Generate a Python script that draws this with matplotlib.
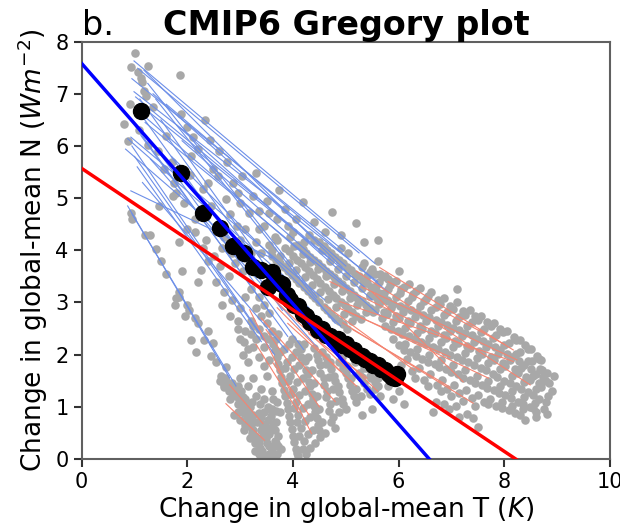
import matplotlib
matplotlib.use('Agg')
import matplotlib.pyplot as plt
import numpy as np

# ---------------- data ----------------
# multi-model mean (black dots)
mean_T = [1.13, 1.88, 2.30, 2.62, 2.86, 3.07, 3.25, 3.40, 3.52, 3.60, 3.72, 3.80,
          3.88, 3.95, 4.02, 4.10, 4.18, 4.25, 4.33, 4.40, 4.48, 4.55, 4.62, 4.70,
          4.78, 4.85, 4.92, 5.00, 5.07, 5.15, 5.22, 5.30, 5.37, 5.45, 5.52, 5.60,
          5.67, 5.75, 5.82, 5.88, 5.93, 5.97]
mean_N = [6.67, 5.48, 4.72, 4.43, 4.09, 3.95, 3.68, 3.62, 3.30, 3.58, 3.40, 3.35,
          3.15, 3.05, 2.95, 2.93, 2.78, 2.75, 2.62, 2.60, 2.48, 2.50, 2.38, 2.35,
          2.28, 2.30, 2.18, 2.20, 2.10, 2.08, 2.00, 1.98, 1.92, 1.88, 1.80, 1.80,
          1.72, 1.70, 1.62, 1.58, 1.55, 1.62]

# multi-model regression fits (intercept, slope)
fit_early = (7.58, -1.152)
fit_late = (5.57, -0.678)

# per-model early fits (T0, N0, T1, N1)
blue_segments = [
    (0.99, 7.63, 5.55, 3.75), (1.06, 7.49, 5.25, 3.95), (0.95, 7.29, 4.95, 4.00),
    (0.99, 7.04, 5.60, 3.40), (1.02, 6.94, 4.70, 3.85), (1.08, 6.81, 5.35, 3.30),
    (1.15, 6.60, 4.40, 3.75), (1.20, 6.45, 5.05, 3.25), (0.93, 6.17, 4.60, 3.05),
    (0.87, 6.14, 3.95, 3.40), (0.83, 5.94, 4.30, 2.90), (0.93, 5.14, 3.60, 3.85),
    (1.10, 6.90, 4.10, 2.70), (1.05, 6.70, 3.80, 2.85), (1.00, 6.40, 3.60, 2.75),
    (1.12, 6.20, 3.90, 2.35), (0.95, 6.00, 3.45, 2.30), (1.00, 5.80, 3.65, 2.00),
    (1.05, 5.60, 3.40, 2.25), (1.30, 6.10, 4.20, 2.10), (1.25, 7.20, 4.45, 3.10),
    (1.40, 6.90, 4.80, 2.60), (1.50, 6.50, 4.40, 2.40), (1.18, 7.45, 5.10, 3.50),
    (0.87, 4.85, 2.80, 1.55), (0.95, 4.70, 2.92, 1.40), (1.60, 6.80, 5.80, 3.20),
    (1.80, 6.40, 5.50, 3.05), (1.35, 7.00, 5.00, 3.70), (1.70, 5.80, 4.90, 2.55),
    (1.15, 5.30, 3.90, 2.05), (1.30, 5.75, 4.45, 2.15), (1.90, 6.10, 5.65, 2.75),
]

# per-model late fits (T0, N0, T1, N1)
red_segments = [
    (5.20, 3.60, 8.49, 1.42), (5.64, 3.67, 8.17, 2.09), (4.88, 3.02, 8.17, 1.87),
    (4.88, 2.89, 6.97, 1.96), (4.94, 2.61, 7.41, 1.07), (5.13, 2.48, 6.97, 1.38),
    (5.30, 3.30, 8.24, 1.90), (5.50, 3.20, 7.22, 1.48), (4.70, 3.40, 7.40, 2.10),
    (5.80, 3.40, 8.00, 2.20), (4.60, 2.95, 6.30, 1.70), (5.00, 2.85, 7.70, 1.55),
    (3.18, 2.86, 4.35, 0.49), (3.49, 2.48, 4.50, 1.00), (3.62, 1.84, 4.30, 0.85),
    (3.70, 2.90, 4.88, 1.70), (3.90, 2.60, 5.20, 1.40), (3.40, 2.70, 4.80, 1.10),
    (4.10, 2.75, 5.60, 1.30), (3.60, 3.10, 5.00, 1.75), (4.30, 2.40, 5.40, 1.55),
    (3.30, 2.20, 4.10, 0.90), (2.73, 1.06, 3.46, 0.36), (2.80, 1.42, 3.43, 0.68),
]

# individual model years (grey dots), grouped by region of the plot
gray_upper_left = [
    (1.01, 7.79), (0.93, 7.52), (1.26, 7.54), (1.06, 7.42), (1.12, 7.31), (1.14, 7.22),
    (1.87, 7.37), (1.18, 7.05), (1.22, 6.95), (0.92, 6.81), (1.35, 6.75), (0.80, 6.43),
    (1.09, 6.30), (0.87, 6.10), (1.25, 6.01), (1.88, 6.62), (1.99, 6.36), (2.33, 6.49),
    (2.42, 6.12), (2.10, 6.17), (2.06, 5.80), (1.60, 6.20), (1.45, 5.90), (1.70, 5.70),
    (1.55, 5.55), (2.20, 5.95), (2.60, 5.90), (2.75, 5.70), (3.30, 5.48), (3.04, 5.43),
    (3.73, 5.16), (4.19, 4.92), (4.74, 4.74), (5.20, 4.53), (1.47, 4.85), (1.40, 4.02),
    (0.93, 4.72), (1.72, 5.04), (1.78, 5.10), (1.93, 4.90), (2.26, 3.63), (2.55, 4.47),
    (2.73, 4.98), (2.94, 4.47), (3.17, 4.72), (3.45, 4.47), (3.65, 4.26), (3.90, 4.47),
    (3.55, 4.72), (2.86, 5.30), (2.58, 5.43), (2.29, 5.17), (2.48, 5.56), (1.75, 5.30),
    (2.05, 5.45), (2.40, 5.30), (2.95, 5.10), (3.25, 5.05), (3.50, 4.95), (3.85, 4.80),
    (4.05, 4.60), (4.40, 4.55), (4.60, 4.35), (4.90, 4.30), (5.35, 4.15), (5.60, 4.20),
    (2.15, 4.60), (2.45, 4.85), (2.70, 4.25), (3.00, 4.20), (3.30, 4.15), (1.30, 4.30),
    (2.85, 3.95), (3.10, 3.85), (2.50, 3.90), (2.35, 4.20), (2.00, 4.40), (1.85, 4.15),
    (2.15, 4.35), (2.30, 4.05), (2.40, 3.80), (2.62, 3.70), (2.78, 3.50), (2.65, 4.05),
    (2.90, 3.75), (3.05, 3.60), (3.20, 3.95), (3.35, 4.40), (3.60, 4.00), (3.10, 4.40),
    (2.80, 4.70), (3.00, 4.90), (3.35, 4.75), (3.70, 4.60), (4.00, 4.35), (4.20, 4.15),
    (2.55, 3.40), (2.70, 3.20), (2.85, 3.05), (3.00, 2.90), (2.65, 2.95), (2.80, 2.75),
    (2.95, 2.65), (3.10, 3.10), (3.20, 3.25), (3.35, 3.10), (3.45, 2.95), (3.55, 2.80),
]
gray_left_low = [
    (1.78, 3.09), (1.84, 3.10), (1.76, 2.96), (2.04, 2.86), (2.07, 2.28), (2.16, 2.06),
    (2.32, 2.28), (2.20, 2.60), (2.48, 2.22), (2.45, 1.97), (2.73, 1.77), (2.64, 1.60),
    (2.70, 1.38), (1.50, 3.80), (1.20, 4.30), (0.95, 4.60), (1.95, 2.75), (2.55, 1.85),
    (1.60, 3.55), (1.85, 3.20), (2.00, 2.95), (2.15, 2.70), (2.40, 2.45), (1.90, 3.60),
    (2.20, 3.40),
]
gray_low_cluster = [
    (2.62, 1.50), (2.70, 1.42), (2.78, 1.30), (2.85, 1.45), (2.92, 1.20), (2.80, 1.15),
    (2.95, 1.05), (3.02, 1.30), (3.05, 0.95), (3.10, 1.15), (3.12, 0.80), (3.18, 1.00),
    (3.20, 0.62), (3.25, 0.85), (3.28, 0.45), (3.32, 0.70), (3.35, 0.30), (3.40, 0.55),
    (3.42, 0.15), (3.48, 0.40), (3.50, 0.05), (3.55, 0.25), (3.58, 0.60), (3.62, 0.04),
    (3.65, 0.35), (3.30, 1.20), (3.38, 1.05), (3.45, 0.90), (3.52, 0.75), (3.60, 0.95),
    (3.68, 0.70), (3.72, 0.45), (3.78, 0.20), (3.15, 1.40), (3.00, 1.55), (3.25, 1.55),
    (3.40, 1.35), (3.70, 1.10), (3.75, 0.90), (2.88, 0.85), (3.08, 0.55), (3.35, 0.10),
    (3.68, 0.30),
    (2.72, 1.55), (2.82, 1.38), (2.90, 1.32), (2.98, 1.15), (3.05, 1.18), (3.12, 1.05),
    (3.15, 0.90), (3.22, 0.75), (3.25, 0.55), (3.30, 0.38), (3.38, 0.22), (3.45, 0.05),
    (3.40, 0.80), (3.48, 0.62), (3.55, 0.48), (3.60, 0.20), (3.70, 0.10), (3.58, 0.82),
    (3.65, 0.55), (3.52, 1.00), (3.62, 1.15), (3.22, 1.10), (3.00, 0.75), (3.10, 0.65),
    (3.18, 0.40), (3.28, 0.15), (3.45, 1.15), (2.95, 0.90),
    (2.75, 1.48), (2.86, 1.25), (2.95, 1.40), (3.02, 1.05), (3.08, 0.88), (3.15, 0.70),
    (3.22, 0.50), (3.28, 0.30), (3.35, 0.18), (3.42, 0.42), (3.50, 0.30), (3.55, 0.10),
    (3.35, 0.88), (3.42, 0.68), (3.50, 0.52), (3.62, 0.68), (3.55, 0.95), (3.68, 0.92),
    (3.72, 0.25),
]
gray_mid_low = [
    (3.62, 2.20), (3.70, 1.95), (3.75, 1.70), (3.80, 1.45), (3.85, 1.20), (3.90, 0.95),
    (3.95, 0.70), (4.00, 0.45), (4.05, 0.20), (4.10, 0.05), (3.72, 2.40), (3.82, 2.10),
    (3.88, 1.85), (3.95, 1.60), (4.00, 1.35), (4.05, 1.10), (4.10, 0.85), (4.15, 0.60),
    (4.20, 0.35), (4.25, 0.10), (3.98, 2.30), (4.05, 2.05), (4.12, 1.80), (4.18, 1.55),
    (4.22, 1.30), (4.28, 1.05), (4.32, 0.80), (4.38, 0.55), (4.42, 0.30), (4.20, 2.20),
    (4.28, 1.95), (4.35, 1.70), (4.40, 1.45), (4.45, 1.20), (4.50, 0.95), (4.55, 0.70),
    (4.60, 0.50), (4.45, 2.00), (4.52, 1.80), (4.58, 1.55), (4.65, 1.30), (4.70, 1.05),
    (4.75, 0.80), (4.80, 0.60), (4.70, 1.85), (4.78, 1.60), (4.85, 1.40), (4.92, 1.15),
    (5.00, 0.95), (4.95, 1.75), (5.05, 1.55), (5.12, 1.30), (5.20, 1.10), (5.25, 1.65),
    (5.35, 1.45), (5.45, 1.25), (5.55, 1.35), (5.65, 1.20), (5.50, 0.95), (5.30, 0.85),
    (3.50, 2.60), (3.60, 2.45), (3.40, 2.75), (3.30, 2.90), (3.20, 2.65), (3.10, 2.45),
    (3.00, 2.30), (3.15, 2.10), (3.30, 2.30), (3.45, 2.15), (3.55, 1.90), (3.50, 1.60),
    (3.60, 1.30), (3.15, 1.85), (3.05, 2.00), (2.95, 2.50), (3.25, 2.55), (5.40, 1.75),
    (5.60, 1.55), (5.80, 1.40), (6.00, 1.30), (5.90, 1.15), (6.10, 1.05),
    (3.66, 2.08), (3.72, 1.82), (3.78, 1.58), (3.82, 1.32), (3.88, 1.08), (3.92, 0.82),
    (3.98, 0.58), (4.02, 0.32), (4.08, 0.12), (3.92, 2.20), (3.98, 1.95), (4.02, 1.72),
    (4.08, 1.48), (4.12, 1.22), (4.18, 0.98), (4.22, 0.72), (4.28, 0.48), (4.32, 0.22),
    (4.15, 2.10), (4.22, 1.88), (4.28, 1.62), (4.32, 1.40), (4.38, 1.15), (4.42, 0.90),
    (4.48, 0.65), (4.52, 0.42), (4.40, 2.12), (4.48, 1.90), (4.52, 1.65), (4.58, 1.42),
    (4.62, 1.18), (4.68, 0.92), (4.72, 0.70), (4.62, 1.95), (4.72, 1.72), (4.80, 1.50),
    (4.88, 1.28), (4.95, 1.05), (4.88, 1.85), (5.00, 1.65), (5.08, 1.42), (5.15, 1.20),
    (5.18, 1.85), (5.30, 1.58), (5.40, 1.35), (5.48, 1.55), (5.60, 1.40), (3.35, 2.50),
    (3.45, 2.35), (3.25, 2.15), (3.35, 1.95), (3.45, 1.78), (3.08, 2.25), (3.20, 2.40),
    (3.55, 2.30),
    (3.68, 2.30), (3.76, 2.05), (3.84, 1.75), (3.90, 1.50), (3.96, 1.25), (4.02, 0.98),
    (4.08, 0.70), (4.12, 0.45), (4.18, 0.20), (4.10, 2.20), (4.16, 1.95), (4.24, 1.70),
    (4.30, 1.48), (4.36, 1.25), (4.40, 1.02), (4.46, 0.78), (4.50, 0.55), (4.55, 2.05),
    (4.62, 1.82), (4.68, 1.58), (4.75, 1.35), (4.82, 1.12), (4.88, 0.90), (4.92, 1.95),
    (5.02, 1.78), (5.10, 1.55), (5.20, 1.35), (5.28, 1.20), (5.35, 1.75), (5.45, 1.60),
    (5.55, 1.48),
]
gray_mid_high = [
    (3.60, 3.90), (3.75, 3.75), (3.90, 3.60), (4.05, 3.45), (4.20, 3.30), (4.35, 3.15),
    (4.50, 3.00), (4.65, 2.85), (4.80, 2.70), (4.95, 2.58), (3.85, 4.05), (4.00, 3.90),
    (4.15, 3.75), (4.30, 3.60), (4.45, 3.45), (4.60, 3.30), (4.75, 3.15), (4.90, 3.00),
    (5.05, 2.88), (5.20, 2.75), (4.10, 4.10), (4.25, 3.95), (4.40, 3.82), (4.55, 3.68),
    (4.70, 3.55), (4.85, 3.42), (5.00, 3.28), (5.15, 3.15), (5.30, 3.02), (5.45, 2.90),
    (4.50, 4.15), (4.65, 4.00), (4.80, 3.88), (4.95, 3.75), (5.10, 3.62), (5.25, 3.50),
    (5.40, 3.38), (5.55, 3.25), (5.70, 3.12), (4.90, 4.05), (5.05, 3.95), (5.35, 3.75),
    (5.50, 3.65), (5.65, 3.55), (5.80, 3.45), (3.70, 4.20), (3.95, 4.25), (4.30, 4.30),
    (3.40, 3.95), (3.55, 4.10),
    (3.68, 3.82), (3.82, 3.68), (3.98, 3.52), (4.12, 3.38), (4.28, 3.22), (4.42, 3.08),
    (4.58, 2.92), (4.72, 2.78), (4.88, 2.65), (5.02, 2.50), (3.92, 3.98), (4.08, 3.82),
    (4.22, 3.68), (4.38, 3.52), (4.52, 3.38), (4.68, 3.22), (4.82, 3.08), (4.98, 2.95),
    (5.12, 2.82), (5.28, 2.68), (4.18, 4.02), (4.32, 3.88), (4.48, 3.75), (4.62, 3.60),
    (4.78, 3.48), (4.92, 3.35), (5.08, 3.22), (5.22, 3.08), (5.38, 2.95), (5.52, 2.82),
    (4.58, 4.08), (4.72, 3.95), (4.88, 3.82), (5.02, 3.68), (5.18, 3.55), (5.32, 3.42),
    (5.48, 3.30), (5.62, 3.18), (5.78, 3.05),
    (3.76, 3.90), (3.92, 3.76), (4.06, 3.62), (4.22, 3.48), (4.36, 3.34), (4.52, 3.20),
    (4.66, 3.06), (4.82, 2.92), (4.96, 2.78), (5.12, 2.64), (4.02, 4.08), (4.18, 3.92),
    (4.32, 3.78), (4.48, 3.64), (4.62, 3.50), (4.78, 3.36), (4.92, 3.22), (5.08, 3.08),
    (5.22, 2.95), (5.38, 2.82), (4.40, 4.20), (4.55, 4.00), (4.70, 3.80), (4.85, 3.65),
    (5.00, 3.50), (5.15, 3.40), (5.30, 3.28), (5.45, 3.15), (5.60, 3.02),
]
gray_right = [
    (5.30, 3.68), (5.55, 3.55), (5.75, 3.50), (5.95, 3.42), (6.20, 3.36), (6.40, 3.28),
    (6.62, 3.20), (6.85, 3.08), (7.10, 3.00), (7.35, 2.86), (7.55, 2.75), (7.80, 2.60),
    (8.05, 2.45), (8.30, 2.28), (8.50, 2.10), (8.70, 1.90), (7.10, 3.25), (6.00, 3.60),
    (5.60, 3.80), (8.95, 1.60), (8.80, 1.65),
    (5.45, 3.58), (5.68, 3.48), (5.88, 3.40), (6.10, 3.30), (6.32, 3.22), (6.55, 3.12),
    (6.75, 3.04), (6.98, 2.94), (7.22, 2.84), (7.45, 2.74), (7.68, 2.63), (7.92, 2.50),
    (8.18, 2.34), (8.40, 2.18), (8.62, 1.98),
    (5.35, 3.40), (5.58, 3.32), (5.80, 3.25), (6.02, 3.18), (6.25, 3.10), (6.48, 3.02),
    (6.70, 2.92), (6.92, 2.82), (7.15, 2.72), (7.38, 2.62), (7.62, 2.50), (7.85, 2.38),
    (8.08, 2.22), (8.30, 2.05), (8.52, 1.88), (8.72, 1.70),
    (5.50, 3.25), (5.72, 3.18), (5.95, 3.10), (6.18, 3.02), (6.40, 2.94), (6.62, 2.85),
    (6.85, 2.76), (7.08, 2.65), (7.30, 2.55), (7.55, 2.44), (7.78, 2.32), (8.00, 2.18),
    (8.22, 2.02), (8.45, 1.88), (8.68, 1.72),
    (5.45, 3.12), (5.68, 3.05), (5.90, 2.98), (6.12, 2.90), (6.35, 2.82), (6.58, 2.72),
    (6.80, 2.62), (7.02, 2.52), (7.25, 2.42), (7.48, 2.30), (7.70, 2.20), (7.92, 2.08),
    (8.15, 1.95), (8.38, 1.80), (8.60, 1.62), (8.85, 1.45),
    (5.62, 2.98), (5.85, 2.90), (6.08, 2.82), (6.30, 2.72), (6.52, 2.64), (6.75, 2.55),
    (6.98, 2.45), (7.20, 2.35), (7.42, 2.25), (7.65, 2.14), (7.88, 2.02), (8.10, 1.90),
    (8.32, 1.75), (8.55, 1.60), (8.78, 1.50),
    (5.55, 2.85), (5.78, 2.78), (6.00, 2.70), (6.22, 2.60), (6.45, 2.50), (6.68, 2.42),
    (6.90, 2.32), (7.12, 2.22), (7.35, 2.12), (7.58, 2.02), (7.80, 1.90), (8.02, 1.78),
    (8.25, 1.65), (8.48, 1.52), (8.70, 1.38),
    (5.68, 2.70), (5.90, 2.62), (6.12, 2.52), (6.35, 2.42), (6.58, 2.32), (6.80, 2.24),
    (7.02, 2.14), (7.25, 2.04), (7.48, 1.94), (7.70, 1.84), (7.92, 1.72), (8.15, 1.60),
    (8.38, 1.48), (8.60, 1.35), (8.82, 1.20),
    (5.75, 2.55), (5.98, 2.45), (6.20, 2.35), (6.42, 2.25), (6.65, 2.15), (6.88, 2.05),
    (7.10, 1.95), (7.32, 1.85), (7.55, 1.75), (7.78, 1.62), (8.00, 1.50), (8.22, 1.40),
    (8.45, 1.28), (8.65, 1.15),
    (5.90, 2.30), (6.12, 2.20), (6.35, 2.10), (6.58, 2.00), (6.80, 1.90), (7.02, 1.80),
    (7.25, 1.70), (7.48, 1.60), (7.70, 1.50), (7.92, 1.40), (8.15, 1.30), (8.38, 1.18),
    (8.58, 1.08),
    (6.00, 2.18), (6.22, 2.05), (6.45, 1.92), (6.68, 1.82), (6.90, 1.72), (7.12, 1.62),
    (7.35, 1.52), (7.58, 1.42), (7.80, 1.32), (8.02, 1.22), (8.25, 1.10), (8.48, 1.00),
    (8.75, 0.95),
    (6.15, 1.92), (6.38, 1.75), (6.60, 1.62), (6.82, 1.52), (7.05, 1.42), (7.28, 1.32),
    (7.50, 1.22), (7.72, 1.15), (7.95, 1.10), (8.15, 1.02), (8.35, 0.95), (8.60, 0.90),
    (6.05, 1.80), (6.30, 1.55), (6.55, 1.40), (6.80, 1.30), (7.00, 1.20), (7.22, 1.12),
    (7.45, 1.02), (7.70, 1.05), (7.95, 0.98), (8.20, 0.88), (8.40, 0.75), (8.80, 0.87),
    (6.65, 0.90), (7.30, 0.87), (7.50, 0.62), (6.70, 1.10), (6.95, 0.95), (7.15, 0.80),
    (5.40, 3.50), (5.62, 3.40), (5.83, 3.33), (6.05, 3.25), (6.28, 3.16), (6.52, 3.07),
    (6.78, 2.97), (7.02, 2.87), (7.26, 2.76), (7.50, 2.66), (7.74, 2.55), (7.97, 2.43),
    (8.22, 2.28), (8.45, 2.10), (8.66, 1.92),
    (5.58, 3.10), (5.80, 3.02), (6.02, 2.94), (6.24, 2.85), (6.47, 2.76), (6.70, 2.67),
    (6.92, 2.57), (7.15, 2.47), (7.38, 2.37), (7.60, 2.26), (7.83, 2.14), (8.05, 2.02),
    (8.28, 1.88), (8.50, 1.72), (8.74, 1.58),
    (5.72, 2.82), (5.95, 2.74), (6.17, 2.65), (6.40, 2.55), (6.62, 2.46), (6.85, 2.37),
    (7.07, 2.27), (7.30, 2.17), (7.52, 2.07), (7.75, 1.96), (7.97, 1.84), (8.20, 1.72),
    (8.42, 1.58), (8.66, 1.45), (8.90, 1.30),
    (5.85, 2.50), (6.07, 2.40), (6.30, 2.30), (6.52, 2.20), (6.75, 2.10), (6.97, 2.00),
    (7.20, 1.90), (7.42, 1.80), (7.65, 1.70), (7.87, 1.58), (8.10, 1.46), (8.32, 1.34),
    (8.55, 1.22), (8.78, 1.10),
    (6.10, 2.08), (6.32, 1.98), (6.55, 1.86), (6.77, 1.76), (7.00, 1.66), (7.22, 1.56),
    (7.45, 1.46), (7.67, 1.36), (7.90, 1.26), (8.12, 1.16), (8.35, 1.06), (8.55, 0.98),
    (6.25, 1.68), (6.48, 1.52), (6.72, 1.42), (6.92, 1.35), (7.15, 1.27), (7.38, 1.17),
    (7.62, 1.10), (7.85, 1.02), (8.08, 0.94), (8.30, 0.85), (6.85, 1.05), (7.08, 1.02),
    (7.40, 0.78), (8.60, 0.80),
]

x_ticks = [0, 2, 4, 6, 8, 10]
y_ticks = [0, 1, 2, 3, 4, 5, 6, 7, 8]

# ---------------- drawing ----------------
fig = plt.figure(figsize=(6.2, 5.27), dpi=100)
ax = fig.add_axes([0.1318, 0.129, 0.852, 0.792])

gray_all = (gray_upper_left + gray_left_low + gray_low_cluster +
            gray_mid_low + gray_mid_high + gray_right)
gT = [p[0] for p in gray_all]
gN = [p[1] for p in gray_all]
ax.scatter(gT, gN, s=38, color='#a8a8a8', linewidths=0, zorder=1)

for T0, N0, T1, N1 in blue_segments:
    ax.plot([T0, T1], [N0, N1], color='#6d8fe8', lw=0.8, zorder=2)
for T0, N0, T1, N1 in red_segments:
    ax.plot([T0, T1], [N0, N1], color='#f48471', lw=0.8, zorder=2)

ax.plot(mean_T, mean_N, 'o', color='black', ms=11.5, zorder=3)

Tline = np.array([0.0, 10.0])
ax.plot(Tline, fit_early[0] + fit_early[1] * Tline, color='blue', lw=2.5, zorder=4)
ax.plot(Tline, fit_late[0] + fit_late[1] * Tline, color='red', lw=2.5, zorder=4)

ax.set_xlim(0, 10)
ax.set_ylim(0, 8)
ax.set_xticks(x_ticks)
ax.set_yticks(y_ticks)
ax.tick_params(axis='both', labelsize=15, length=6, width=1.5, color='#333333')
for sp in ax.spines.values():
    sp.set_color('#606060')
    sp.set_linewidth(1.5)

ax.set_xlabel('Change in global-mean T ($K$)', fontsize=19, labelpad=2)
ax.set_ylabel('Change in global-mean N ($Wm^{-2}$)', fontsize=19, labelpad=4)
ax.set_title('CMIP6 Gregory plot', fontsize=24, fontweight='bold', pad=3)
ax.set_title('b.', loc='left', fontsize=24, pad=3)

fig.savefig('out.png', dpi=100)
